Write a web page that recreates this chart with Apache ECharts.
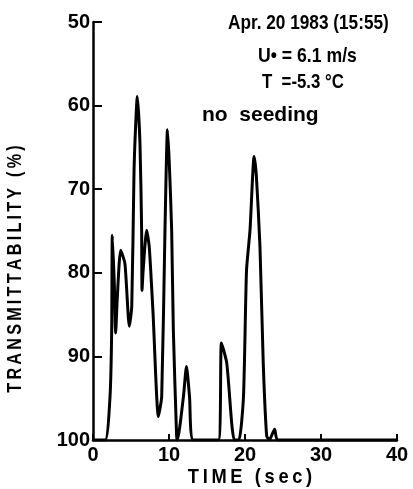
<!DOCTYPE html>
<html><head><meta charset="utf-8">
<script src="https://cdn.jsdelivr.net/npm/echarts@6/dist/echarts.min.js"></script>
<style>html,body{margin:0;padding:0;background:#fff}#c{width:413px;height:489px}</style>
</head><body><div id="c"></div>
<script>
const timeSec = [0,1.6,2.24,2.46,2.54,2.8,2.98,3.2,3.64,4.2,4.78,5.1,5.4,5.53,5.83,6.18,6.4,6.45,6.6,7.06,7.4,7.9,8.6,9.04,9.47,9.8,10.04,10.35,10.57,11.0,11.1,11.9,12.3,12.7,13.2,16.5,16.9,17.6,18.25,18.6,19.2,19.8,20.2,20.66,21.2,21.5,21.97,22.4,22.85,23.2,23.9,24.3,40];
const transmittability = [100,100,94.8,86.8,75.5,81.2,87.2,82.9,77.3,78.9,86.4,84,67.7,64.1,58.9,64.5,74.9,82.1,79.7,74.9,76.9,84.8,97.2,94.8,74.9,62.9,66.9,74.9,86.8,99.5,100,94.8,91.2,94.8,100,100,88.4,90.8,98,100,100,94.8,79.7,74.9,66.1,68.5,76.9,90.8,99.5,100,98.7,100,100];
const xTicks = [0,10,20,30,40];
const yTicks = [50,60,70,80,90,100];
const xTitle = "TIME (sec)";
const yTitle = "TRANSMITTABILITY (%)";
const notes = ["Apr. 20 1983 (15:55)", "U\u2022 = 6.1 m/s", "T  =-5.3 \u00b0C", "no  seeding"];

const FF = '"Liberation Sans",Arial,sans-serif';
const spaced = (s, sep) => s.split('').join(sep);
const chart = echarts.init(document.getElementById('c'), null, {renderer:'canvas'});
chart.setOption({
  animation:false,
  backgroundColor:'#fff',
  grid:{left:93,right:16,top:22,bottom:49,containLabel:false,outerBoundsMode:'none'},
  xAxis:{type:'value',min:xTicks[0],max:xTicks[xTicks.length-1],interval:10,
    axisLine:{onZero:false,lineStyle:{color:'#000',width:2.5}},
    axisTick:{inside:true,length:6,lineStyle:{color:'#000',width:2}},
    axisLabel:{fontFamily:FF,fontSize:20,fontWeight:'bold',color:'#000',margin:5},
    splitLine:{show:false}},
  yAxis:{type:'value',inverse:true,min:yTicks[0],max:yTicks[yTicks.length-1],interval:10,
    axisLine:{show:true,lineStyle:{color:'#000',width:2.5}},
    axisTick:{show:true,inside:true,length:9,lineStyle:{color:'#000',width:2}},
    axisLabel:{fontFamily:FF,fontSize:20,fontWeight:'bold',color:'#000',margin:3},
    splitLine:{show:false}},
  series:[{type:'line',data:timeSec.map((t,i)=>[t,transmittability[i]]),
    showSymbol:false,smooth:0.2,lineStyle:{color:'#000',width:3},z:3}],
  graphic:[
    {type:'text',x:15,y:269,rotation:Math.PI/2,scaleX:0.77,style:{text:spaced(yTitle,'\u2009'),font:'bold 21px '+FF,fill:'#000',align:'center',verticalAlign:'middle'}},
    {type:'text',x:250,y:477,scaleX:0.87,style:{text:spaced(xTitle,'\u2009'),font:'bold 21px '+FF,fill:'#000',align:'center',verticalAlign:'middle'}},
    {type:'text',x:228,y:23,scaleX:0.82,style:{text:notes[0],font:'bold 21px '+FF,fill:'#000',align:'left',verticalAlign:'middle'}},
    {type:'text',x:258,y:56,scaleX:0.84,style:{text:notes[1],font:'bold 21px '+FF,fill:'#000',align:'left',verticalAlign:'middle'}},
    {type:'text',x:262,y:82,scaleX:0.8,style:{text:notes[2],font:'bold 21px '+FF,fill:'#000',align:'left',verticalAlign:'middle'}},
    {type:'text',x:202,y:115,style:{text:notes[3],font:'bold 21px '+FF,fill:'#000',align:'left',verticalAlign:'middle'}}
  ]
});
</script></body></html>
